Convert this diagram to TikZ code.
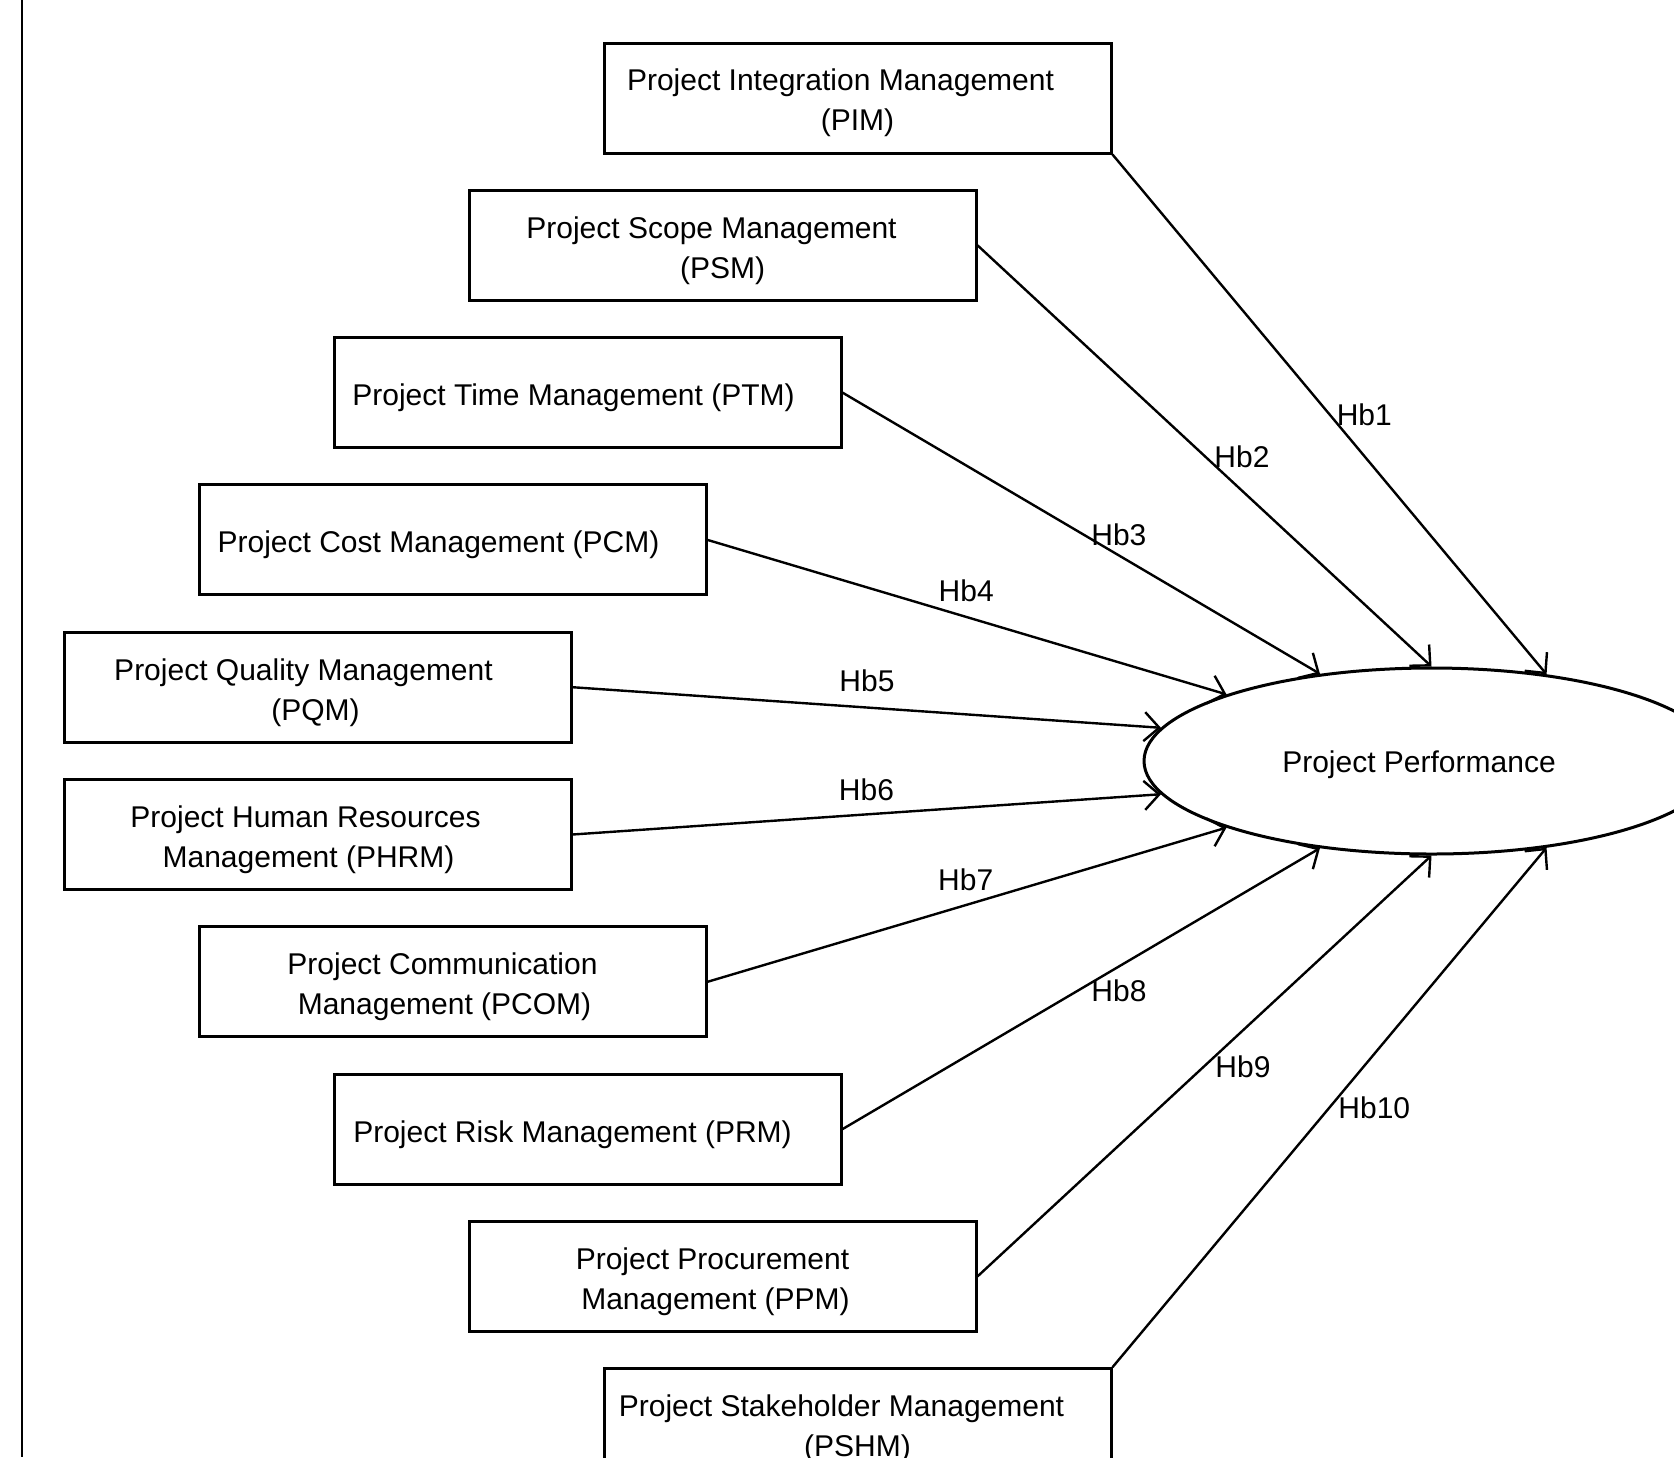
\documentclass[tikz,border=0pt]{standalone}
\usepackage{fontspec}
\setmainfont{Liberation Sans}
\usetikzlibrary{arrows.meta,shapes.geometric}
\newcommand{\tsp}[1]{\hspace*{#1pt}}
\newcommand{\tup}{\rule{0pt}{16pt}}
\begin{document}
\begin{tikzpicture}[x=0.5pt,y=-0.5pt,
  box/.style={draw, line width=1.5pt, minimum width=253.5pt, minimum height=55pt, inner sep=0pt, align=center, font=\fontsize{15}{20}\selectfont},
  conn/.style={line width=1.2pt, -{Straight Barb[length=7.5pt,width=14.5pt]}},
  lab/.style={font=\fontsize{15}{17}\selectfont, inner sep=0pt},
  perfshape/.style={draw, ellipse, line width=1.5pt, minimum width=287.5pt, minimum height=93pt, inner sep=0pt}]
\useasboundingbox (0,0) rectangle (1674,1457);
\clip (0,0) rectangle (1674,1457);
\draw[line width=1.2pt] (22,0) -- (22,1457);

\node[box] (pim) at (857.5,98) {\tup Project Integration Management\tsp{17}\\(PIM)};
\node[box] (psm) at (722.5,245.3) {\tup Project Scope Management\tsp{11}\\(PSM)};
\node[box] (ptm) at (587.5,392.6) {\tup Project Time Management (PTM)\tsp{14}};
\node[box] (pcm) at (452.5,539.9) {\tup Project Cost Management (PCM)\tsp{14}};
\node[box] (pqm) at (317.5,687.2) {\tup Project Quality Management\tsp{14}\\(PQM)\tsp{2}};
\node[box] (phrm) at (317.5,834.5) {\tup Project Human Resources\tsp{12}\\Management (PHRM)\tsp{9}};
\node[box] (pcom) at (452.5,981.8) {\tup Project Communication\tsp{10}\\Management (PCOM)\tsp{8}};
\node[box] (prm) at (587.5,1129.1) {\tup Project Risk Management (PRM)\tsp{15}};
\node[box] (ppm) at (722.5,1276.4) {\tup Project Procurement\tsp{10}\\Management (PPM)\tsp{7}};
\node[box] (pshm) at (857.5,1423.7) {\tup Project Stakeholder Management\tsp{16}\\(PSHM)};

\node[perfshape] (perf) at (1431.5,761) {};
\node[lab] (perftext) at (1419,765) {Project Performance};

\draw[conn] (pim.south east) -- (perf.37) node[lab,pos=0.534,xshift=10pt,yshift=8.5pt] {Hb1};
\draw[conn] (psm.east) -- (perf.90) node[lab,pos=0.545,xshift=8.5pt,yshift=9pt] {Hb2};
\draw[conn] (ptm.east) -- (perf.142) node[lab,pos=0.56,xshift=4.5pt,yshift=7.5pt] {Hb3};
\draw[conn] (pcm.east) -- (perf.162) node[lab,pos=0.485,xshift=3.5pt,yshift=12pt] {Hb4};
\draw[conn] (pqm.east) -- (perf.173) node[lab,pos=0.497,xshift=1pt,yshift=13.5pt] {Hb5};
\draw[conn] (phrm.east) -- (perf.187) node[lab,pos=0.503,xshift=-1pt,yshift=12pt] {Hb6};
\draw[conn] (pcom.east) -- (perf.198) node[lab,pos=0.511,xshift=-3.5pt,yshift=11.5pt] {Hb7};
\draw[conn] (prm.east) -- (perf.218) node[lab,pos=0.556,xshift=5.5pt,yshift=-9pt] {Hb8};
\draw[conn] (ppm.east) -- (perf.270) node[lab,pos=0.545,xshift=9pt,yshift=-10pt] {Hb9};
\draw[conn] (pshm.north east) -- (perf.323) node[lab,pos=0.541,xshift=13.5pt,yshift=-11pt] {Hb10};
\end{tikzpicture}
\end{document}
